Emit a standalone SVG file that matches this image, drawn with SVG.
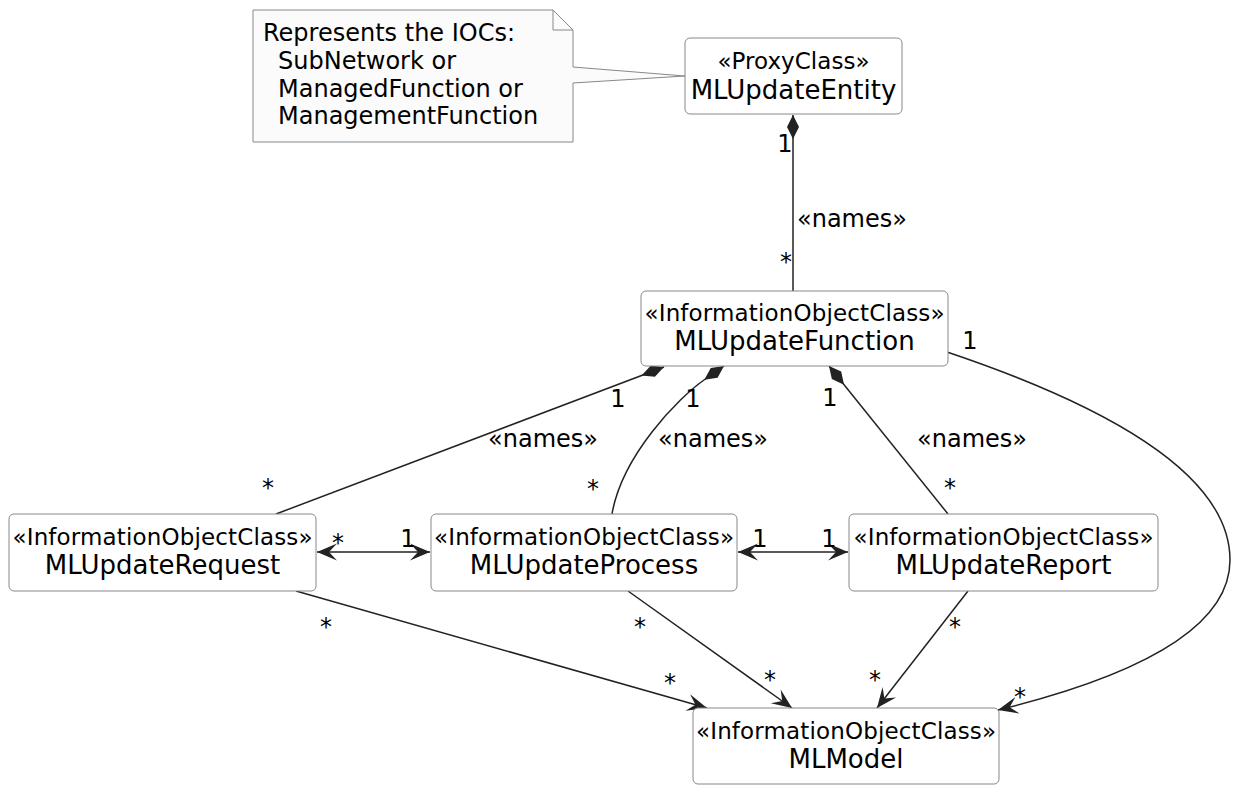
<svg xmlns="http://www.w3.org/2000/svg" width="1233" height="785" viewBox="0 0 1233 785">
<style>
text{font-family:"DejaVu Sans","Liberation Sans",sans-serif;fill:#000}
.box{fill:#fff;stroke:#888;stroke-width:1}
.st{font-size:23px;text-anchor:middle}
.nm{font-size:26px;text-anchor:middle}
.note{fill:#fbfbfb;stroke:#888;stroke-width:1}
.nt{font-size:24px}
.ln{fill:none;stroke:#222;stroke-width:1.5}
.lbl{font-size:24px}
.m{font-size:24px;text-anchor:middle}
</style>
<defs>
<marker id="arr" viewBox="-22 -11 24 22" refX="0" refY="0" markerWidth="24" markerHeight="22" markerUnits="userSpaceOnUse" orient="auto-start-reverse">
<path d="M0,0 L-20,-8.5 L-12,0 L-20,8.5 Z" fill="#222"/>
</marker>
<marker id="dia" viewBox="-2 -8 28 16" refX="0" refY="0" markerWidth="28" markerHeight="16" markerUnits="userSpaceOnUse" orient="auto">
<path d="M0,0 L12,-6 L24,0 L12,6 Z" fill="#222"/>
</marker>
</defs>

<g id="note">
<path class="note" d="M253,10 L553,10 L573,30 L573,67 L685,76 L573,83 L573,142 L253,142 Z"/>
<path d="M553,10 L553,30 L573,30" fill="none" stroke="#888" stroke-width="1"/>
<text class="nt" x="263" y="41">Represents the IOCs:</text>
<text class="nt" x="278" y="69">SubNetwork or</text>
<text class="nt" x="278" y="97">ManagedFunction or</text>
<text class="nt" x="278" y="124">ManagementFunction</text>
</g>

<g id="connectors">
<path class="ln" d="M793,115 L793,291" marker-start="url(#dia)"/>
<path class="ln" d="M664,367 L276,514" marker-start="url(#dia)"/>
<path class="ln" d="M724,366 L704,380 C679,397.5 622,455 612,514" marker-start="url(#dia)"/>
<path class="ln" d="M829,366 L948,514" marker-start="url(#dia)"/>
<path class="ln" d="M947,352 C1060,390 1230,460 1230,560 C1230,640 1100,685 998,710" marker-end="url(#arr)"/>
<path class="ln" d="M317,552 L430,552" marker-start="url(#arr)" marker-end="url(#arr)"/>
<path class="ln" d="M738,552 L848,552" marker-start="url(#arr)" marker-end="url(#arr)"/>
<path class="ln" d="M296,591 L707,708" marker-end="url(#arr)"/>
<path class="ln" d="M628,591 L792,708" marker-end="url(#arr)"/>
<path class="ln" d="M968,591 L877,708" marker-end="url(#arr)"/>

<text class="m" x="785" y="152">1</text>
<text class="m" x="786" y="270">*</text>
<text class="lbl" x="797" y="227">«names»</text>

<text class="m" x="618" y="407">1</text>
<text class="m" x="268" y="496">*</text>
<text class="lbl" x="543" y="447" text-anchor="middle">«names»</text>

<text class="m" x="693" y="407">1</text>
<text class="m" x="593" y="497">*</text>
<text class="lbl" x="713" y="447" text-anchor="middle">«names»</text>

<text class="m" x="830" y="406">1</text>
<text class="m" x="950" y="496">*</text>
<text class="lbl" x="972" y="447" text-anchor="middle">«names»</text>

<text class="m" x="970" y="349">1</text>
<text class="m" x="1020" y="705">*</text>

<text class="m" x="338" y="551">*</text>
<text class="m" x="408" y="547">1</text>
<text class="m" x="760" y="547">1</text>
<text class="m" x="829" y="547">1</text>

<text class="m" x="326" y="635">*</text>
<text class="m" x="670" y="691">*</text>
<text class="m" x="640" y="635">*</text>
<text class="m" x="770" y="688">*</text>
<text class="m" x="955" y="635">*</text>
<text class="m" x="875" y="688">*</text>
</g>

<g id="MLUpdateEntity">
<rect class="box" x="685" y="38" width="217" height="76" rx="5"/>
<text class="st" x="793.5" y="69" textLength="152" lengthAdjust="spacing">«ProxyClass»</text>
<text class="nm" x="793.5" y="99">MLUpdateEntity</text>
</g>

<g id="MLUpdateFunction">
<rect class="box" x="641" y="291" width="307" height="75" rx="5"/>
<text class="st" x="794.5" y="321" textLength="300" lengthAdjust="spacing">«InformationObjectClass»</text>
<text class="nm" x="794.5" y="350">MLUpdateFunction</text>
</g>

<g id="MLUpdateRequest">
<rect class="box" x="9" y="514" width="307" height="77" rx="5"/>
<text class="st" x="162.5" y="545" textLength="300" lengthAdjust="spacing">«InformationObjectClass»</text>
<text class="nm" x="162.5" y="574">MLUpdateRequest</text>
</g>

<g id="MLUpdateProcess">
<rect class="box" x="431" y="514" width="306" height="77" rx="5"/>
<text class="st" x="584" y="545" textLength="300" lengthAdjust="spacing">«InformationObjectClass»</text>
<text class="nm" x="584" y="574">MLUpdateProcess</text>
</g>

<g id="MLUpdateReport">
<rect class="box" x="849" y="514" width="309" height="77" rx="5"/>
<text class="st" x="1003.5" y="545" textLength="300" lengthAdjust="spacing">«InformationObjectClass»</text>
<text class="nm" x="1003.5" y="574">MLUpdateReport</text>
</g>

<g id="MLModel">
<rect class="box" x="693" y="708" width="306" height="76" rx="5"/>
<text class="st" x="846" y="739" textLength="300" lengthAdjust="spacing">«InformationObjectClass»</text>
<text class="nm" x="846" y="768">MLModel</text>
</g>
</svg>
